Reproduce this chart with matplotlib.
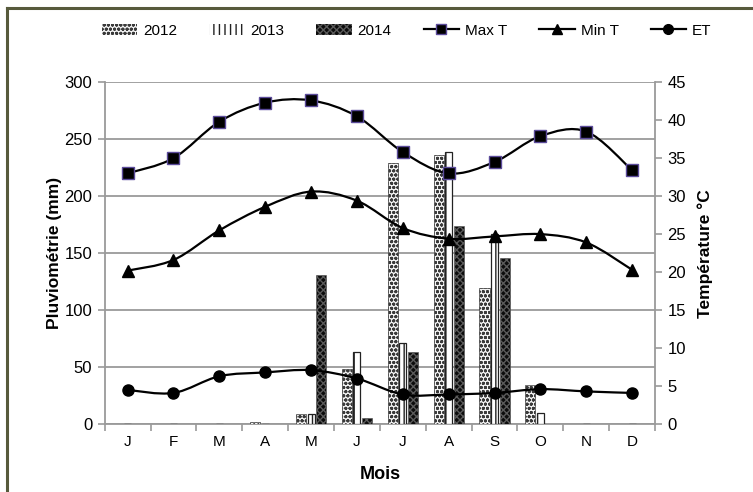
import matplotlib.pyplot as plt
import numpy as np
from matplotlib.path import Path
from matplotlib.patches import PathPatch, Patch
from matplotlib.lines import Line2D

plt.rcParams['font.family'] = ['Liberation Sans', 'DejaVu Sans']

months = ['J', 'F', 'M', 'A', 'M', 'J', 'J', 'A', 'S', 'O', 'N', 'D']
rain_2012 = [0, 0, 0, 2, 9, 48, 229, 236, 119, 34, 0, 0]
rain_2013 = [0, 0, 0, 0, 9, 63, 71, 239, 167, 10, 0, 0]
rain_2014 = [0, 0, 0, 0, 131, 5, 63, 174, 146, 0, 0, 0]
max_t = [33.0, 35.0, 39.8, 42.3, 42.6, 40.5, 35.8, 33.0, 34.5, 37.9, 38.5, 33.4]
min_t = [20.2, 21.6, 25.5, 28.6, 30.6, 29.4, 25.8, 24.4, 24.7, 25.0, 23.9, 20.3]
et = [4.5, 4.1, 6.3, 6.8, 7.1, 6.0, 3.9, 3.9, 4.1, 4.6, 4.3, 4.1]

grey = '#9a9a9a'


def smooth_line(ax, x, y, **kw):
    # Excel-like smoothed line: Catmull-Rom converted to cubic Bezier segments
    x = np.asarray(x, float)
    y = np.asarray(y, float)
    pts = np.column_stack([x, y])
    ext = np.vstack([pts[0], pts, pts[-1]])
    verts = [pts[0]]
    codes = [Path.MOVETO]
    for i in range(len(pts) - 1):
        p0, p1, p2, p3 = ext[i], ext[i + 1], ext[i + 2], ext[i + 3]
        c1 = p1 + (p2 - p0) / 6.0
        c2 = p2 - (p3 - p1) / 6.0
        verts += [c1, c2, p2]
        codes += [Path.CURVE4] * 3
    ax.add_patch(PathPatch(Path(verts, codes), fill=False, **kw))


fig = plt.figure(figsize=(7.53, 4.92), dpi=100)
ax = fig.add_axes([0.139, 0.138, 0.731, 0.695])
ax2 = ax.twinx()

x = np.arange(len(months))
w = 0.22
style_2012 = dict(facecolor='#f4f4f4', edgecolor='#3a3a3a', hatch='oooo')
style_2013 = dict(facecolor='white', edgecolor='#222222', hatch='||')
style_2014 = dict(facecolor='#0c0c0c', edgecolor='#5a5a5a', hatch='xxxxx')

ax.bar(x - w, rain_2012, w, linewidth=0.5, zorder=3, **style_2012)
ax.bar(x, rain_2013, w * 0.7, linewidth=0.9, zorder=3, **style_2013)
ax.bar(x + w, rain_2014, w, linewidth=0.4, zorder=3, **style_2014)

ax.set_xlim(-0.5, 11.5)
ax.set_ylim(0, 300)
ax.set_yticks(range(0, 301, 50))
ax.yaxis.grid(True, color=grey, linewidth=1.3, zorder=0)
ax.set_axisbelow(True)
ax.set_xticks(x)
ax.set_xticklabels(months, fontsize=11)
ax.set_xticks(np.arange(-0.5, 12, 1), minor=True)
ax.tick_params(axis='x', which='major', length=0, pad=8)
ax.tick_params(axis='x', which='minor', length=5, color=grey, width=1.2)
ax.tick_params(axis='y', length=5, color=grey, width=1.2, labelsize=12, pad=4)
for s in ['top', 'right']:
    ax.spines[s].set_visible(False)
for s in ['left', 'bottom']:
    ax.spines[s].set_color(grey)
    ax.spines[s].set_linewidth(1.3)
ax.set_ylabel('Pluviométrie (mm)', fontsize=12.5, fontweight='bold', labelpad=2)
ax.set_xlabel('Mois', fontsize=13, fontweight='bold', labelpad=12)

for vals, mk, fc, ec in [(max_t, 's', 'black', '#5b4b9a'),
                         (min_t, '^', 'black', 'black'),
                         (et, 'o', 'black', 'black')]:
    smooth_line(ax2, x, vals, edgecolor='black', linewidth=1.6, zorder=4)
    ax2.plot(x, vals, linestyle='none', marker=mk, markersize=8,
             markerfacecolor=fc, markeredgecolor=ec, markeredgewidth=1, zorder=5)

ax2.set_ylim(0, 45)
ax2.set_yticks(range(0, 46, 5))
ax2.tick_params(axis='y', length=5, color=grey, width=1.2, labelsize=12, pad=4)
for s in ['top', 'left', 'bottom']:
    ax2.spines[s].set_visible(False)
ax2.spines['right'].set_color(grey)
ax2.spines['right'].set_linewidth(1.3)
ax2.set_ylabel('Température °C', fontsize=12.5, fontweight='bold', labelpad=8)

handles = [
    Patch(linewidth=0, **style_2012),
    Patch(facecolor='white', edgecolor='#222222', hatch='|||', linewidth=0),
    Patch(linewidth=0, **style_2014),
    Line2D([], [], color='black', lw=1.6, marker='s', markersize=7,
           markerfacecolor='black', markeredgecolor='#5b4b9a'),
    Line2D([], [], color='black', lw=1.6, marker='^', markersize=7),
    Line2D([], [], color='black', lw=1.6, marker='o', markersize=7),
]
labels = ['2012', '2013', '2014', 'Max T', 'Min T', 'ET']
fig.legend(handles, labels, loc='center', bbox_to_anchor=(0.54, 0.938), ncol=6,
           frameon=False, fontsize=11, handlelength=2.3, handleheight=0.7,
           handletextpad=0.4, columnspacing=2.1)

border = '#575a3c'
fig.add_artist(Line2D([0.009, 1.0], [0.984, 0.984], color=border, lw=2.2, transform=fig.transFigure))
fig.add_artist(Line2D([0.009, 0.009], [0.0, 0.984], color=border, lw=2.2, transform=fig.transFigure))

fig.savefig('out.png', dpi=100, facecolor='white')
